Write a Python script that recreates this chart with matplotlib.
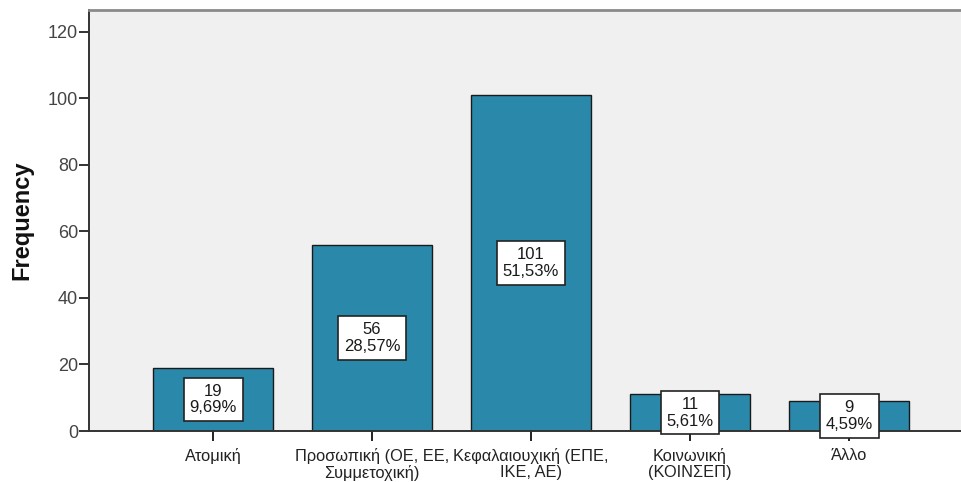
import matplotlib.pyplot as plt
import numpy as np

categories = ["Ατομική", "Προσωπική (ΟΕ, ΕΕ,\nΣυμμετοχική)", "Κεφαλαιουχική (ΕΠΕ,\nΙΚΕ, ΑΕ)",
              "Κοινωνική\n(ΚΟΙΝΣΕΠ)", "Άλλο"]
counts = [19, 56, 101, 11, 9]
percents = ["9,69%", "28,57%", "51,53%", "5,61%", "4,59%"]
yticks = [0, 20, 40, 60, 80, 100, 120]

plt.rcParams['font.family'] = ['Liberation Sans', 'DejaVu Sans']

fig = plt.figure(figsize=(9.62, 4.82), dpi=100)
ax = fig.add_axes([89 / 962, 1 - 431 / 482, (962 - 89) / 962, (431 - 10) / 482])
ax.set_facecolor('#f0f0f0')

x = np.arange(len(categories))
ax.bar(x, counts, width=0.755, color='#2a89aa', edgecolor='#1a1a1a', linewidth=1.0, zorder=2)

for xi, c, p in zip(x, counts, percents):
    ax.text(xi, c / 2, f"{c}\n{p}", ha='center', va='center', fontsize=12,
            color='#1a1a1a', linespacing=1.15, zorder=3,
            bbox=dict(boxstyle='square,pad=0.35', facecolor='white', edgecolor='#222222', linewidth=1.2))

ax.set_xlim(-0.78, 4.71)
ax.set_ylim(0, 126.6)
ax.set_yticks(yticks)
ax.set_xticks(x)
ax.set_xticklabels(categories, fontsize=11.8, color='#222222', linespacing=1.1)
ax.tick_params(axis='y', labelsize=13, length=7, width=1.4, pad=1, colors='#333333')
ax.tick_params(axis='x', length=7, width=1.4, pad=5, colors='#222222')
for lbl in ax.get_yticklabels():
    lbl.set_color('#444444')

ax.set_ylabel("Frequency", fontsize=17, fontweight='bold', color='#111111', labelpad=10)

ax.spines['right'].set_visible(False)
ax.spines['top'].set_color('#8a8a8a')
ax.spines['top'].set_linewidth(2.0)
ax.spines['left'].set_color('#333333')
ax.spines['left'].set_linewidth(1.4)
ax.spines['bottom'].set_color('#333333')
ax.spines['bottom'].set_linewidth(1.4)

fig.savefig("out.png", dpi=100)
